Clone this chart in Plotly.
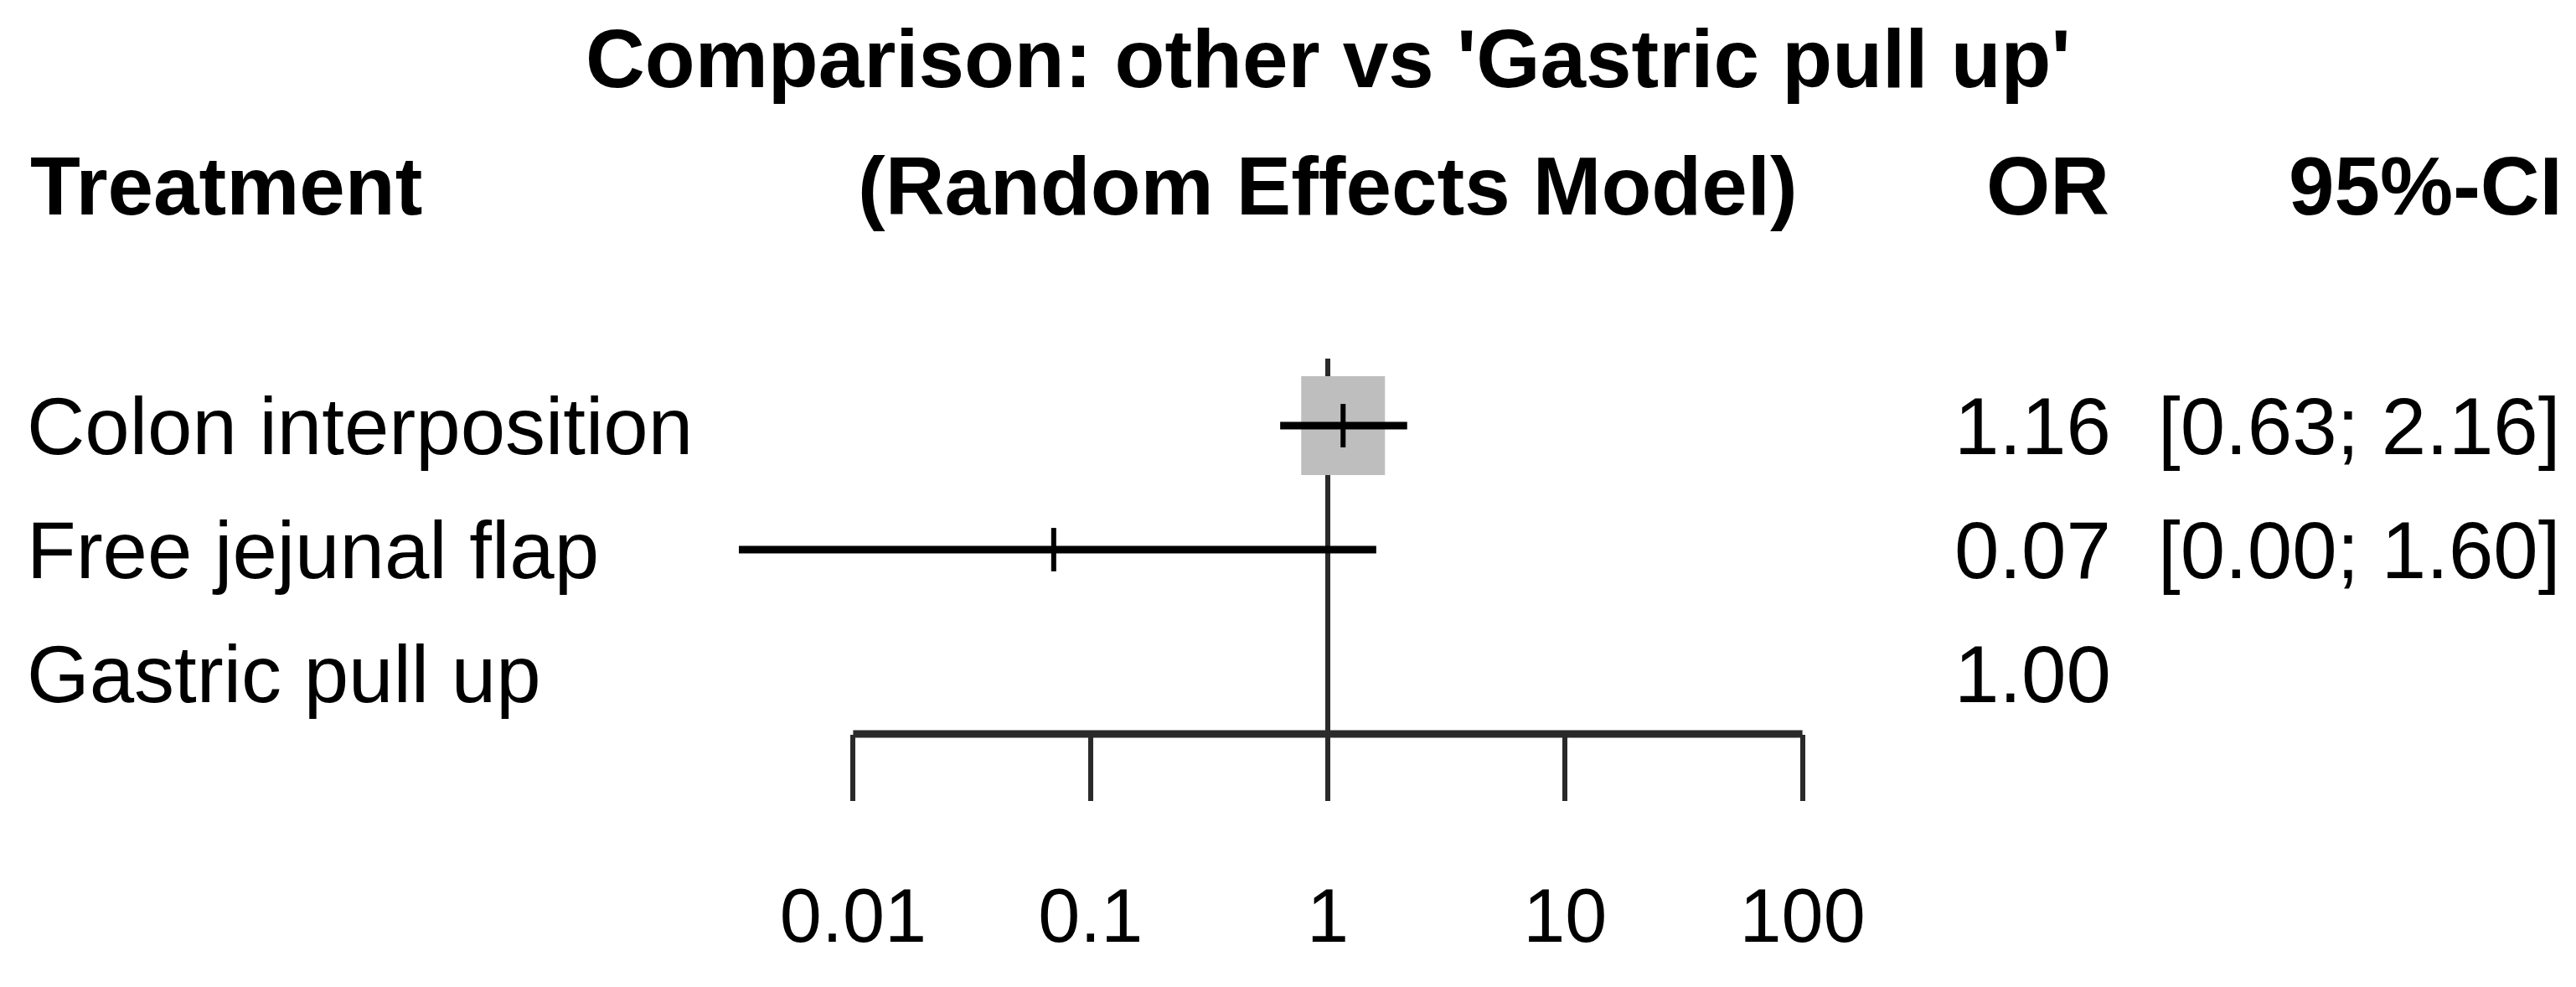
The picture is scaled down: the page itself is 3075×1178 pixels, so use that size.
import math
import plotly.graph_objects as go

# ---------------- data ----------------
treatments = ["Colon interposition", "Free jejunal flap", "Gastric pull up"]
odds_ratio = [1.16, 0.07, 1.00]
ci_lower = [0.63, 0.0033, None]
ci_upper = [2.16, 1.60, None]
or_labels = ["1.16", "0.07", "1.00"]
ci_labels = ["[0.63; 2.16]", "[0.00; 1.60]", ""]
tick_values = [0.01, 0.1, 1, 10, 100]
tick_labels = ["0.01", "0.1", "1", "10", "100"]
title_text = "Comparison: other vs 'Gastric pull up'"
header_treat = "Treatment"
header_model = "(Random Effects Model)"
header_or = "OR"
header_ci = "95%-CI"

# ---------------- layout constants ----------------
W, H = 3075, 1178
FONT = "Liberation Sans, Arial, sans-serif"
REG = 96
BOLD = 98
TICK = 90
AXIS_PX = 868          # y pixel of the x-axis line
ydom0 = 1 - AXIS_PX / H
rows = list(range(1, len(treatments) + 1))
DEC = 283.3            # pixels per decade
ROW_PX = 148           # pixels per row
SQ_HALF_W, SQ_HALF_H = 50, 59


def py(px):
    return 1 - px / H


def px_x(px):
    return px / W


fig = go.Figure()

shapes = []
# reference line at OR = 1
shapes.append(dict(type="line", xref="x", yref="paper", x0=1, x1=1,
                   y0=ydom0, y1=py(420), line=dict(color="#2a2a2a", width=6),
                   layer="below"))
# weight square for first comparison (drawn in data units around the estimate)
or0 = odds_ratio[0]
shapes.append(dict(type="rect", xref="x", yref="y",
                   x0=or0 * 10 ** (-SQ_HALF_W / DEC), x1=or0 * 10 ** (SQ_HALF_W / DEC),
                   y0=rows[0] - SQ_HALF_H / ROW_PX, y1=rows[0] + SQ_HALF_H / ROW_PX,
                   fillcolor="#bebebe", line=dict(width=0), layer="below"))
# axis line spanning tick range
shapes.append(dict(type="line", xref="x", yref="paper",
                   x0=tick_values[0], x1=tick_values[-1], y0=ydom0, y1=ydom0,
                   line=dict(color="#2a2a2a", width=9)))

# CI lines
for r, lo, hi in zip(rows, ci_lower, ci_upper):
    if lo is None:
        continue
    fig.add_trace(go.Scatter(x=[lo, hi], y=[r, r], mode="lines",
                             line=dict(color="black", width=9),
                             hoverinfo="skip", showlegend=False))

# point estimates (small vertical ticks)
pr = [r for r, lo in zip(rows, ci_lower) if lo is not None]
pv = [v for v, lo in zip(odds_ratio, ci_lower) if lo is not None]
fig.add_trace(go.Scatter(x=pv, y=pr, mode="markers",
                         marker=dict(symbol="line-ns", size=37,
                                     line=dict(color="black", width=6)),
                         hoverinfo="skip", showlegend=False))

ann = []
bold_font = dict(family=FONT, size=BOLD, color="black", weight=700)
reg_font = dict(family=FONT, size=REG, color="black")
TXT_OFF = 8  # cap-centre offset of middle-anchored text
# title (centred over OR = 1; annotation x on log axis is log10 value)
ann.append(dict(text=title_text, xref="x", x=math.log10(1), xanchor="center",
                yref="paper", y=py(70 - TXT_OFF), yanchor="middle",
                showarrow=False, font=bold_font))
# headers
hy = py(222 - TXT_OFF)
ann.append(dict(text=header_treat, xref="paper", x=px_x(26), xanchor="left",
                yref="paper", y=hy, yanchor="middle", showarrow=False,
                font=bold_font))
ann.append(dict(text=header_model, xref="x", x=math.log10(1), xanchor="center",
                yref="paper", y=hy, yanchor="middle", showarrow=False,
                font=bold_font))
ann.append(dict(text=header_or, xref="paper", x=px_x(2512), xanchor="right",
                yref="paper", y=hy, yanchor="middle", showarrow=False,
                font=bold_font))
ann.append(dict(text=header_ci, xref="paper", x=px_x(3053), xanchor="right",
                yref="paper", y=hy, yanchor="middle", showarrow=False,
                font=bold_font))
# rows
for r, name, orl, cil in zip(rows, treatments, or_labels, ci_labels):
    ann.append(dict(text=name, xref="paper", x=px_x(22), xanchor="left",
                    yref="y", y=r, yanchor="middle", showarrow=False,
                    font=reg_font))
    ann.append(dict(text=orl, xref="paper", x=px_x(2514), xanchor="right",
                    yref="y", y=r, yanchor="middle", showarrow=False,
                    font=reg_font))
    if cil:
        ann.append(dict(text=cil, xref="paper", x=px_x(3050), xanchor="right",
                        yref="y", y=r, yanchor="middle", showarrow=False,
                        font=reg_font))

# x range so that OR = 1 sits at x = 1577 px
xl = -1577 / DEC
xr = xl + W / DEC
y_top = 1 - 500 / ROW_PX
y_bot = y_top + AXIS_PX / ROW_PX

fig.update_layout(
    width=W, height=H,
    margin=dict(l=0, r=0, t=0, b=0),
    paper_bgcolor="white", plot_bgcolor="white",
    shapes=shapes, annotations=ann,
    xaxis=dict(type="log", range=[xl, xr], domain=[0, 1],
               showgrid=False, zeroline=False, showline=False,
               tickvals=tick_values, ticktext=tick_labels,
               ticks="outside", ticklen=79, tickwidth=6, tickcolor="#2a2a2a",
               ticklabelstandoff=60,
               tickfont=dict(family=FONT, size=TICK, color="black")),
    yaxis=dict(range=[y_bot, y_top], domain=[ydom0, 1], visible=False,
               showgrid=False, zeroline=False),
    font=dict(family=FONT),
)

fig.write_html("out.html")
